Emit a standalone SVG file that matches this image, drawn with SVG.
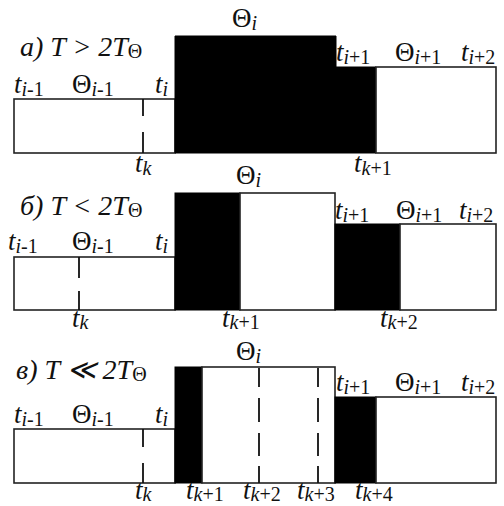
<svg xmlns="http://www.w3.org/2000/svg" width="504" height="506" viewBox="0 0 504 506">
<style>
.w{fill:#fff;stroke:#222;stroke-width:1.6}
.b{fill:#000;stroke:#000;stroke-width:1}
.d{stroke:#111;stroke-width:1.8;fill:none}
text{font-family:"Liberation Serif","Times New Roman",serif;fill:#111}
.t{font-size:28px;font-style:italic}
.l{font-size:27px}
.i{font-style:italic}
.s{font-size:20px}
</style>
<rect width="504" height="506" fill="#fff"/>
<g id="panel-a">
<rect class="w" x="14" y="99" width="161" height="54"/>
<path class="b" d="M175,36H336V67H376V153H175Z"/>
<rect class="w" x="376" y="67" width="120" height="86"/>
<g class="d"><path d="M143,99V116M143,132V153"/></g>
<text class="t" x="20" y="56">а) T &gt; 2T<tspan class="s" font-style="normal" dy="2">Θ</tspan></text>
<text class="l" x="232" y="27">Θ<tspan class="s i" dy="3">i</tspan></text>
<text class="l" x="14" y="93"><tspan class="i">t</tspan><tspan class="s" dy="3"><tspan class="i">i</tspan>-1</tspan></text>
<text class="l" x="72" y="93">Θ<tspan class="s" dy="3"><tspan class="i">i</tspan>-1</tspan></text>
<text class="l" x="155" y="93"><tspan class="i">t</tspan><tspan class="s i" dy="3">i</tspan></text>
<text class="l" x="336" y="61"><tspan class="i">t</tspan><tspan class="s" dy="3"><tspan class="i">i</tspan>+1</tspan></text>
<text class="l" x="395" y="61">Θ<tspan class="s" dy="3"><tspan class="i">i</tspan>+1</tspan></text>
<text class="l" x="461" y="61"><tspan class="i">t</tspan><tspan class="s" dy="3"><tspan class="i">i</tspan>+2</tspan></text>
<text class="l" x="135" y="172"><tspan class="i">t</tspan><tspan class="s i" dy="3">k</tspan></text>
<text class="l" x="354" y="172"><tspan class="i">t</tspan><tspan class="s" dy="3"><tspan class="i">k</tspan>+1</tspan></text>
</g>
<g id="panel-b">
<rect class="w" x="14" y="257" width="161" height="53"/>
<rect class="b" x="175" y="193" width="65" height="117"/>
<rect class="w" x="240" y="193" width="95" height="117"/>
<rect class="b" x="335" y="224" width="65" height="86"/>
<rect class="w" x="400" y="224" width="96" height="86"/>
<g class="d"><path d="M79,257V278M79,291V310"/></g>
<text class="t" x="20" y="215">б) T &lt; 2T<tspan class="s" font-style="normal" dy="2">Θ</tspan></text>
<text class="l" x="236" y="184">Θ<tspan class="s i" dy="3">i</tspan></text>
<text class="l" x="8" y="250"><tspan class="i">t</tspan><tspan class="s" dy="3"><tspan class="i">i</tspan>-1</tspan></text>
<text class="l" x="72" y="250">Θ<tspan class="s" dy="3"><tspan class="i">i</tspan>-1</tspan></text>
<text class="l" x="155" y="250"><tspan class="i">t</tspan><tspan class="s i" dy="3">i</tspan></text>
<text class="l" x="335" y="219"><tspan class="i">t</tspan><tspan class="s" dy="3"><tspan class="i">i</tspan>+1</tspan></text>
<text class="l" x="396" y="219">Θ<tspan class="s" dy="3"><tspan class="i">i</tspan>+1</tspan></text>
<text class="l" x="459" y="219"><tspan class="i">t</tspan><tspan class="s" dy="3"><tspan class="i">i</tspan>+2</tspan></text>
<text class="l" x="72" y="327"><tspan class="i">t</tspan><tspan class="s i" dy="2">k</tspan></text>
<text class="l" x="222" y="327"><tspan class="i">t</tspan><tspan class="s" dy="2"><tspan class="i">k</tspan>+1</tspan></text>
<text class="l" x="380" y="327"><tspan class="i">t</tspan><tspan class="s" dy="2"><tspan class="i">k</tspan>+2</tspan></text>
</g>
<g id="panel-c">
<rect class="w" x="14" y="429" width="161" height="54"/>
<rect class="b" x="175" y="367" width="27" height="116"/>
<rect class="w" x="202" y="367" width="133" height="116"/>
<rect class="b" x="335" y="397" width="41" height="86"/>
<rect class="w" x="376" y="397" width="120" height="86"/>
<g class="d">
<path d="M143,429V447M143,463V483"/>
<path d="M259,368V387M259,398V422M259,433V456M259,466V483"/>
<path d="M318,368V387M318,398V422M318,433V456M318,466V483"/>
</g>
<text class="t" x="16" y="379">в) T ≪ 2T<tspan class="s" font-style="normal" dy="2">Θ</tspan></text>
<text class="l" x="236" y="360">Θ<tspan class="s i" dy="3">i</tspan></text>
<text class="l" x="14" y="423"><tspan class="i">t</tspan><tspan class="s" dy="3"><tspan class="i">i</tspan>-1</tspan></text>
<text class="l" x="72" y="423">Θ<tspan class="s" dy="3"><tspan class="i">i</tspan>-1</tspan></text>
<text class="l" x="155" y="423"><tspan class="i">t</tspan><tspan class="s i" dy="3">i</tspan></text>
<text class="l" x="336" y="391"><tspan class="i">t</tspan><tspan class="s" dy="3"><tspan class="i">i</tspan>+1</tspan></text>
<text class="l" x="395" y="391">Θ<tspan class="s" dy="3"><tspan class="i">i</tspan>+1</tspan></text>
<text class="l" x="461" y="391"><tspan class="i">t</tspan><tspan class="s" dy="3"><tspan class="i">i</tspan>+2</tspan></text>
<text class="l" x="135" y="499"><tspan class="i">t</tspan><tspan class="s i" dy="2">k</tspan></text>
<text class="l" x="186" y="499"><tspan class="i">t</tspan><tspan class="s" dy="2"><tspan class="i">k</tspan>+1</tspan></text>
<text class="l" x="243" y="499"><tspan class="i">t</tspan><tspan class="s" dy="2"><tspan class="i">k</tspan>+2</tspan></text>
<text class="l" x="297" y="499"><tspan class="i">t</tspan><tspan class="s" dy="2"><tspan class="i">k</tspan>+3</tspan></text>
<text class="l" x="355" y="499"><tspan class="i">t</tspan><tspan class="s" dy="2"><tspan class="i">k</tspan>+4</tspan></text>
</g>
</svg>
